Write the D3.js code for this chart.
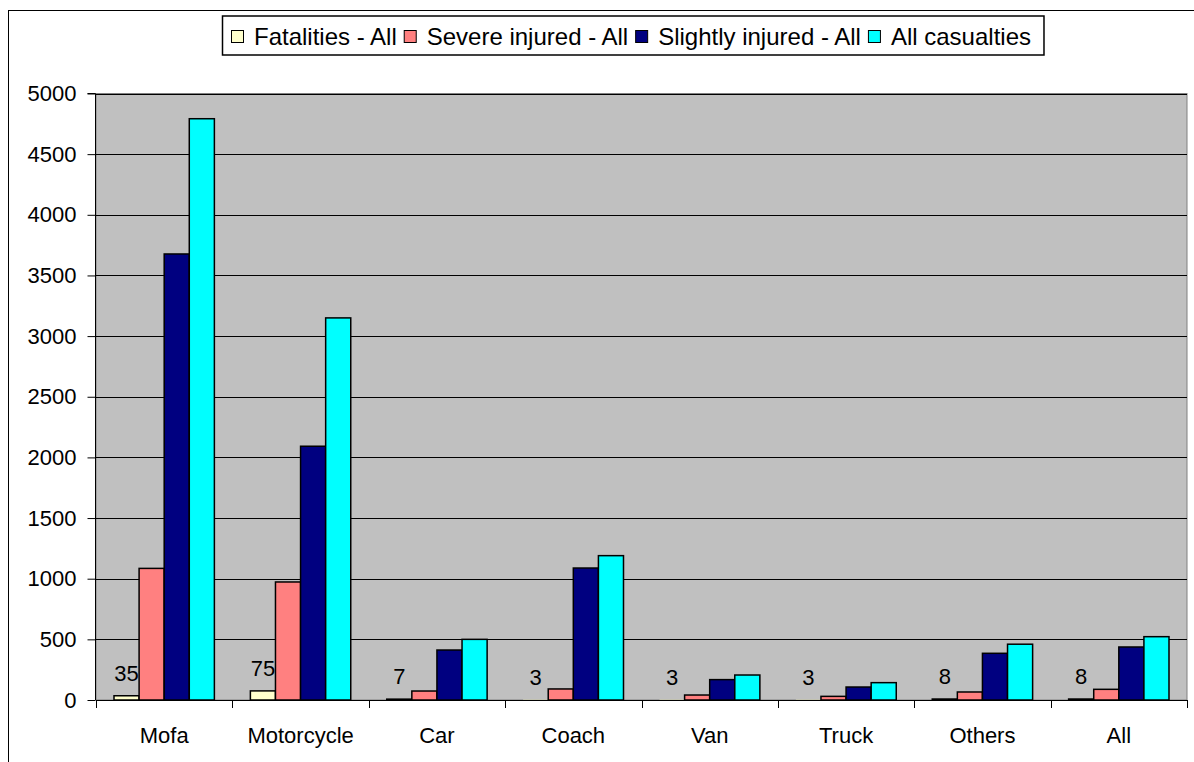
<!DOCTYPE html>
<html>
<head>
<meta charset="utf-8">
<script src="https://cdn.jsdelivr.net/npm/d3@7"></script>
<style>
  html, body { margin: 0; padding: 0; background: #fff; }
  svg { display: block; font-family: Arial, "Liberation Sans", sans-serif; }
</style>
</head>
<body>
<svg id="chart" width="1194" height="762"></svg>
<script>
const categories = ["Mofa", "Motorcycle", "Car", "Coach", "Van", "Truck", "Others", "All"];
const seriesNames = ["Fatalities - All", "Severe injured - All", "Slightly injured - All", "All casualties"];
const fatalities = [35, 75, 7, 3, 3, 3, 8, 8];
const severeInjured = [1085, 973, 74, 91, 41, 30, 66, 88];
const slightlyInjured = [3677, 2092, 412, 1088, 168, 107, 385, 437];
const allCasualties = [4792, 3150, 500, 1190, 206, 143, 460, 522];
const yTicks = [0, 500, 1000, 1500, 2000, 2500, 3000, 3500, 4000, 4500, 5000];
const colors = ["#FFFFCC", "#FF8080", "#000080", "#00FFFF"];

const seriesValues = [fatalities, severeInjured, slightlyInjured, allCasualties];

(function () {
const svg = d3.select("#chart");

// outer chart border
svg.append("rect").attr("x", 8.5).attr("y", 10.5).attr("width", 1200).attr("height", 800)
  .attr("fill", "#fff").attr("stroke", "#000").attr("stroke-width", 1);

const pLeft = 96, pRight = 1187, pTop = 93.5, pBottom = 700;

const x0 = d3.scaleBand().domain(categories).range([pLeft, pRight]).padding(0);
const bw = x0.bandwidth();
const x1 = d3.scaleBand().domain(seriesNames).range([18, bw - 18]).padding(0);
const y = d3.scaleLinear().domain([0, 5000]).range([pBottom, pTop]);

// plot area
svg.append("rect").attr("x", pLeft).attr("y", pTop).attr("width", pRight - pLeft).attr("height", pBottom - pTop)
  .attr("fill", "#C0C0C0").attr("stroke", "#808080").attr("stroke-width", 1);

// gridlines
svg.append("g").selectAll("line").data(yTicks.filter(d => d > 0)).join("line")
  .attr("x1", pLeft).attr("x2", pRight)
  .attr("y1", d => Math.round(y(d)) + 0.5).attr("y2", d => Math.round(y(d)) + 0.5)
  .attr("stroke", "#000").attr("stroke-width", 1);

// bars
const groups = svg.append("g").selectAll("g").data(categories).join("g")
  .attr("transform", d => `translate(${x0(d)},0)`);
groups.selectAll("rect").data((c, i) => seriesNames.map((s, k) => ({ s, k, v: seriesValues[k][i] })))
  .join("rect")
  .attr("x", d => x1(d.s))
  .attr("width", x1.bandwidth())
  .attr("y", d => y(d.v))
  .attr("height", d => pBottom - y(d.v))
  .attr("fill", d => colors[d.k])
  .attr("stroke", d => (pBottom - y(d.v)) < 0.5 ? "none" : "#000")
  .attr("stroke-width", 1.5);

// fatality labels
svg.append("g").selectAll("text").data(categories).join("text")
  .attr("x", (c) => x0(c) + x1(seriesNames[0]) + x1.bandwidth() / 2)
  .attr("y", (c, i) => y(fatalities[i]) - 15)
  .attr("text-anchor", "middle")
  .attr("font-size", 22)
  .attr("fill", "#000")
  .text((c, i) => fatalities[i]);

// y axis
const yAxis = svg.append("g").attr("transform", `translate(${pLeft - 0.5},0)`)
  .call(d3.axisLeft(y).tickValues(yTicks).tickSize(8).tickPadding(11).tickFormat(d3.format("d")));
yAxis.selectAll("text").attr("font-size", 22).attr("fill", "#000").attr("font-family", "Arial, 'Liberation Sans', sans-serif");
yAxis.selectAll("line").attr("stroke", "#000");
yAxis.select(".domain").attr("stroke", "#000").attr("d", `M-8,${y(5000)}H0V${pBottom}`);

// x axis
const xAxis = svg.append("g").attr("transform", `translate(0,${pBottom + 0.5})`)
  .call(d3.axisBottom(x0).tickSize(0).tickPadding(27));
xAxis.selectAll("text").attr("font-size", 22).attr("fill", "#000").attr("font-family", "Arial, 'Liberation Sans', sans-serif");
xAxis.select(".domain").attr("stroke", "#000").attr("d", `M${pLeft},0H${pRight}`);
// boundary ticks
const bounds = categories.map(c => x0(c)).concat([pRight]);
svg.append("g").selectAll("line").data(bounds).join("line")
  .attr("x1", d => Math.round(d) + 0.5).attr("x2", d => Math.round(d) + 0.5)
  .attr("y1", pBottom).attr("y2", pBottom + 8)
  .attr("stroke", "#000").attr("stroke-width", 1);

// legend
const legend = svg.append("g");
const legendBox = legend.append("rect").attr("fill", "#fff").attr("stroke", "#000").attr("stroke-width", 1.5);
let cx = 231;
seriesNames.forEach((s, k) => {
  const g = legend.append("g");
  g.append("rect").attr("x", cx + 0.5).attr("y", 30.5).attr("width", 12).attr("height", 12)
    .attr("fill", colors[k]).attr("stroke", "#000").attr("stroke-width", 1);
  const t = g.append("text").attr("x", cx + 23).attr("y", 44.5).attr("font-size", 24).attr("fill", "#000").text(s);
  const w = t.node().getComputedTextLength();
  cx = cx + 23 + w + 7;
});
legendBox.attr("x", 222.5).attr("y", 16).attr("width", cx - 7 + 13 - 222.5).attr("height", 39);
})();
</script>
</body>
</html>
